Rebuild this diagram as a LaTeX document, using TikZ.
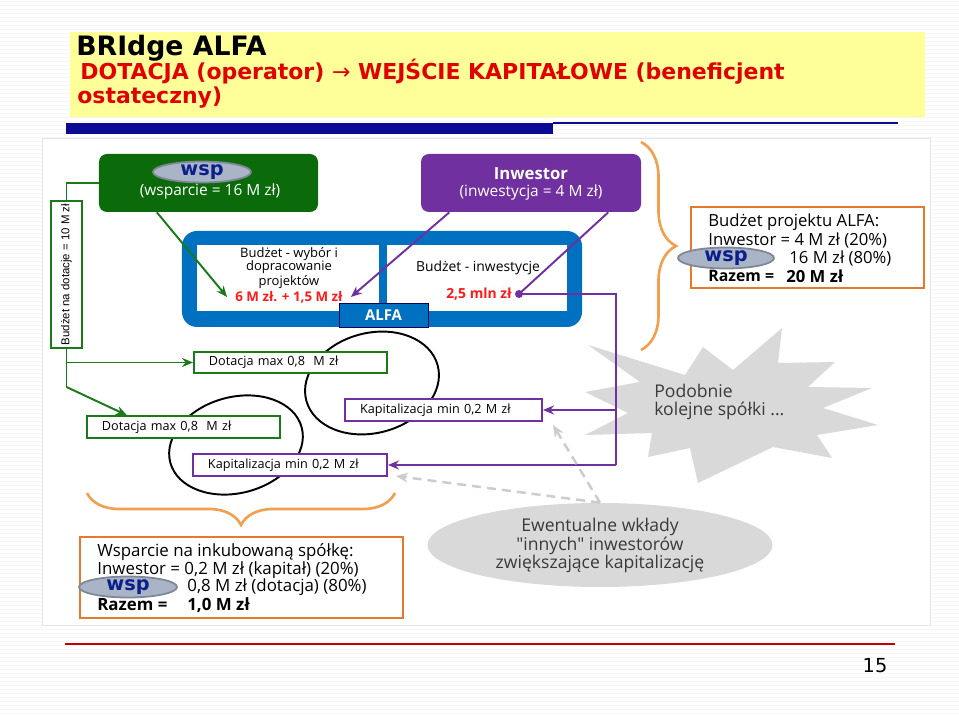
\documentclass[tikz,border=0pt]{standalone}
\usepackage{fontspec}
\setmainfont{Open Sans}[Ligatures=TeXOff]
\newfontfamily\titlefont{DejaVu Sans}
\newfontfamily\narrowfont{Liberation Sans}
\newfontfamily\symfont{DejaVu Sans}
\usepackage{tikz}
\usetikzlibrary{arrows.meta, shapes, calc, decorations.pathreplacing}

\definecolor{titleyellow}{HTML}{FFFF99}
\definecolor{barnavy}{HTML}{0A0A96}
\definecolor{titlered}{HTML}{E00000}
\definecolor{footred}{HTML}{C00000}
\definecolor{wspgreen}{HTML}{0B6B0B}
\definecolor{linegreen}{HTML}{1A7A1A}
\definecolor{invpurple}{HTML}{7030A0}
\definecolor{alfablue}{HTML}{0070C0}
\definecolor{sumorange}{HTML}{E57A2E}
\definecolor{braceorange}{HTML}{F0A050}
\definecolor{ovalfill}{HTML}{A9B4C6}
\definecolor{ovaledge}{HTML}{7D8796}
\definecolor{ovalnavy}{HTML}{0B1F8C}
\definecolor{cloudgray}{HTML}{D9D9D9}
\definecolor{cloudtext}{HTML}{3A3A3A}
\definecolor{costred}{HTML}{FF1A1A}

\begin{document}
\begin{tikzpicture}[x=0.2mm, y=-0.2mm,
        wspoval/.style={ellipse, draw=ovaledge, fill=ovalfill, line width=1pt,
            minimum width=19.6mm, minimum height=3.8mm, inner sep=0pt,
            text=ovalnavy, font=\symfont\bfseries\fontsize{11}{11}\selectfont},
        sumtext/.style={anchor=west, inner sep=0pt, font=\fontsize{9.5}{10}\selectfont}]
    \useasboundingbox (0,0) rectangle (959,717);
    \fill[white] (0,0) rectangle (959,717);
    \foreach \yy in {1,5,...,717}
        \draw[gray!7, line width=0.5pt] (0,\yy) -- (959,\yy);

    % title
    \fill[titleyellow] (70,32) rectangle (925,117);
    \begin{scope}[every node/.style={anchor=base west, inner sep=0pt}]
        \node[font=\titlefont\bfseries\fontsize{15.2}{15.2}\selectfont] (ttl) at (76,56) {BRIdge ALFA};
        \node[text=titlered, font=\titlefont\bfseries\fontsize{12.5}{12.5}\selectfont] (sub) at (80,80)
            {DOTACJA (operator) {\mdseries →} WEJŚCIE KAPITAŁOWE (beneficjent};
        \node[text=titlered, font=\titlefont\bfseries\fontsize{12.5}{12.5}\selectfont] (subb) at (77,104) {ostateczny)};
    \end{scope}
    \fill[barnavy] (66,123) rectangle (553,134);
    \draw[barnavy, line width=1.2pt] (553,123) -- (898,123);

    % footer
    \draw[footred, line width=1.2pt] (65,644) -- (895,644);
    \node[font=\symfont\fontsize{11}{11}\selectfont] (pg) at (875,666) {15};

    % diagram area
    \fill[white] (42,138) rectangle (930,625);
    \draw[gray!20] (42,138) rectangle (930,625);

    % star and rings
    \fill[cloudgray] (585,435) -- (628,413) -- (585,392) -- (640,382) -- (588,345) -- (685,375)
        -- (703,347) -- (733,370) -- (782,328) -- (778,363) -- (835,362) -- (808,387)
        -- (872,388) -- (823,408) -- (878,425) -- (817,435) -- (832,458) -- (773,447)
        -- (698,483) -- (690,448) -- (648,457) -- (652,433) -- cycle;
    \draw[line width=1.1pt, rotate around={15:(372,383)}] (372,383) ellipse [x radius=68, y radius=50];
    \draw[line width=1.1pt, rotate around={15:(236,445)}] (236,445) ellipse [x radius=68, y radius=48];

    \begin{scope}[every node/.style={inner sep=0pt}]
        \node[fill=wspgreen, rounded corners=1.6mm, minimum width=43.8mm, minimum height=11.6mm] (grn) at (208.5,183) {};
        \node[fill=invpurple, rounded corners=1.6mm, minimum width=44mm, minimum height=11.6mm] (inw) at (531,183) {};
        \node[fill=alfablue, rounded corners=3mm, minimum width=80mm, minimum height=19.2mm] (frame) at (382,279) {};
        \node[fill=white, minimum width=36.4mm, minimum height=13.2mm] (budl) at (288,278) {};
        \node[fill=white, minimum width=36mm, minimum height=13.2mm] (budr) at (477,278) {};
        \node[fill=alfablue, draw=barnavy!60!black, thin, minimum width=17.8mm, minimum height=4.8mm,
            text=white, font=\bfseries\fontsize{8.5}{8.5}\selectfont] (alfa) at (383.5,315) {ALFA};
        \node[draw=linegreen, fill=white, line width=1.1pt, rotate=90, minimum width=29.4mm, minimum height=6.2mm,
            font=\narrowfont\fontsize{6.5}{6.5}\selectfont] (bnd) at (66.5,274.5) {Budżet na dotacje = 10 M zł};
    \end{scope}

    % texts in the upper boxes
    \node[wspoval] (wspG) at (202,172) {wsp};
    \node[text=white, inner sep=0pt, font=\fontsize{8.8}{8.8}\selectfont] (grntxt) at (210,191) {(wsparcie = 16 M zł)};
    \node[text=white, inner sep=0pt, font=\bfseries\fontsize{9.5}{9.5}\selectfont] (inwhead) at (531,174) {Inwestor};
    \node[text=white, inner sep=0pt, font=\fontsize{8.8}{8.8}\selectfont] (inwtxt) at (531,192) {(inwestycja = 4 M zł)};
    \node[align=center, inner sep=0pt, font=\fontsize{7.4}{7.4}\selectfont] (budltxt) at (289,268) {Budżet - wybór i\\dopracowanie\\projektów};
    \node[text=costred, inner ysep=0pt, inner xsep=1.6mm, font=\bfseries\fontsize{7.6}{7.6}\selectfont] (costl) at (289,297) {6 M zł. + 1,5 M zł};
    \node[inner sep=0pt, font=\fontsize{7.9}{7.9}\selectfont] (budrtxt) at (478,268) {Budżet - inwestycje};
    \node[text=costred, inner sep=0pt, font=\bfseries\fontsize{7.9}{7.9}\selectfont] (costr) at (479,294) {2,5 mln zł};
    \node[circle, fill=invpurple, minimum size=1.6mm, inner sep=0pt] (dotr) at (519,294) {};

    % lower boxes
    \begin{scope}[every node/.style={draw=linegreen, fill=white, line width=1.1pt, inner xsep=3mm,
            inner ysep=0pt, minimum height=4.3mm, align=left, font=\fontsize{7.2}{7.5}\selectfont}]
        \node[text width=32.6mm] (dotu) at (290.5,362.5) {Dotacja max 0,8~ M zł};
        \node[text width=32.6mm] (dotl) at (183.5,427) {Dotacja max 0,8~ M zł};
        \node[draw=invpurple, text width=33.4mm] (kapu) at (443.5,410) {Kapitalizacja min 0,2 M zł};
        \node[draw=invpurple, text width=32.8mm] (kapl) at (290,465) {Kapitalizacja min 0,2 M zł};
    \end{scope}

    \node[anchor=west, align=left, text=cloudtext, inner sep=0pt, font=\fontsize{10}{10.2}\selectfont] (podob) at (654,402)
        {Podobnie\\kolejne spółki ...};
    \node[ellipse, fill=cloudgray, minimum width=69mm, minimum height=16.8mm, inner sep=0pt, align=center,
        text=cloudtext, font=\fontsize{10}{10}\selectfont] (ewent) at (600,545)
        {Ewentualne wkłady\\"innych" inwestorów\\zwiększające kapitalizację};

    \coordinate (grnfoot) at ($(grn.south west)!0.265!(grn.south east)$);
    \coordinate (inwfoot) at ($(inw.south west)!0.13!(inw.south east)$);
    \coordinate (inwfootb) at ($(inw.south west)!0.85!(inw.south east)$);
    \coordinate (gbend) at (66.5,387);
    \coordinate (dotltip) at ($(dotl.north west)!0.21!(dotl.north east)$);
    \coordinate (pturn) at (616,294);
    \coordinate (pbot) at (616,465);
    \coordinate (kaputip) at (553,425);
    \coordinate (kapltip) at (396,476);

    % green connectors
    \begin{scope}[>={Stealth[length=2.2mm, width=1.8mm]},
                  every edge/.style={draw=linegreen, line width=1.1pt}]
        \draw[linegreen, line width=1.1pt] (grn.west) -| (bnd.east);
        \draw[linegreen, line width=1.1pt] (bnd.west) -- (gbend);
        \path[->] (bnd.west |- dotu.west) edge (dotu.west);
        \path[->] (gbend) edge (dotltip);
        \path[->] (grnfoot) edge (costl.west);
    \end{scope}

    % purple connectors
    \begin{scope}[>={Stealth[length=2.2mm, width=1.8mm]},
                  every edge/.style={draw=invpurple, line width=1.1pt}]
        \path[->] (inwfoot) edge (costl.east);
        \draw[invpurple, line width=1.1pt] (inwfootb) -- (dotr.center) -- (pturn) -- (pbot);
        \path[->] (pbot) edge (kapl.east);
        \path[->] (pturn |- kapu.east) edge (kapu.east);
    \end{scope}

    % other investors
    \begin{scope}[>={Stealth[length=2.4mm, width=2mm]},
                  every edge/.style={draw=gray!40, line width=1.4pt, dash pattern=on 1.8mm off 1.2mm}]
        \path[->] (ewent.north) edge (kaputip);
        \path[->] (ewent.north) edge (kapltip);
    \end{scope}

    % braces and summaries
    \draw[braceorange, line width=1.5pt, decorate, decoration={brace, amplitude=7mm}] (641,142) -- (641,350);
    \draw[braceorange, line width=1.5pt, decorate, decoration={brace, amplitude=6.4mm}] (395,493) -- (87,493);

    \node[draw=sumorange, line width=1.2pt, fill=white, minimum width=46.6mm, minimum height=16.2mm] (budA) at (807.5,247.5) {};
    \node[wspoval, minimum height=3.4mm, minimum width=19.2mm] (wspA) at (726,258) {wsp};
    \node[sumtext] (budA1) at (708,222) {Budżet projektu ALFA:};
    \node[sumtext] (budA2) at (708,240) {Inwestor = 4 M zł (20\%)};
    \node[sumtext] (budA3) at (789,258) {16 M zł (80\%)};
    \node[sumtext, font=\bfseries\fontsize{9}{10}\selectfont] (budA4) at (708,276) {Razem =};
    \node[sumtext, font=\bfseries\fontsize{9.5}{10}\selectfont] (budA5) at (786,276) {20 M zł};

    \node[draw=sumorange, line width=1.2pt, fill=white, minimum width=64.6mm, minimum height=16.2mm] (inc) at (241.5,577.5) {};
    \begin{scope}[sumtext/.append style={font=\fontsize{9.6}{10}\selectfont}]
        \node[sumtext] (inc1) at (97,552) {Wsparcie na inkubowaną spółkę:};
        \node[sumtext] (inc2) at (97,570) {Inwestor = 0,2 M zł (kapitał) (20\%)};
        \node[sumtext] (inc3) at (187,587) {0,8 M zł (dotacja) (80\%)};
        \node[sumtext, font=\bfseries\fontsize{9.6}{10}\selectfont] (inc4) at (97,605) {Razem =};
        \node[sumtext, font=\bfseries\fontsize{9.6}{10}\selectfont] (inc5) at (187,605) {1,0 M zł};
    \end{scope}
    \node[wspoval, minimum height=3.6mm] (wspB) at (128,587) {wsp};
\end{tikzpicture}
\end{document}
